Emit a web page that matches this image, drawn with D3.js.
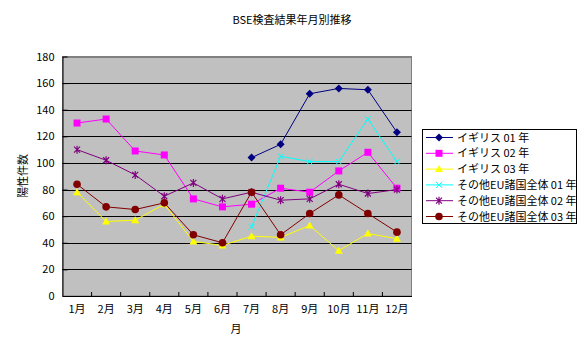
<!DOCTYPE html>
<html><head><meta charset="utf-8">
<script src="https://cdn.jsdelivr.net/npm/d3@7"></script>
<style>
body{margin:0;background:#fff;}
text{font-family:"Noto Sans CJK JP","DejaVu Sans",sans-serif;fill:#000;}
</style></head>
<body><svg id="c" width="587" height="354"></svg>
<script>
const months = ["1月","2月","3月","4月","5月","6月","7月","8月","9月","10月","11月","12月"];
const yTicks = [0,20,40,60,80,100,120,140,160,180];
const seriesNames = ["イギリス 01 年","イギリス 02 年","イギリス 03 年","その他EU諸国全体 01 年","その他EU諸国全体 02 年","その他EU諸国全体 03 年"];
const uk01 = [null,null,null,null,null,null,104,114,152,156,155,123];
const uk02 = [130,133,109,106,73,67,69,81,78,94,108,81];
const uk03 = [78,56,57,69,41,38,45,44,53,34,47,43];
const eu01 = [null,null,null,null,null,null,52,105,101,101,133,101];
const eu02 = [110,102,91,75,85,73,78,72,73,84,77,80];
const eu03 = [84,67,65,70,46,40,78,46,62,76,62,48];
const colors = ["#000080","#FF00FF","#FFFF00","#00FFFF","#800080","#800000"];
const markers = ["diamond","square","triangle","x","star","circle"];
const data = [uk01,uk02,uk03,eu01,eu02,eu03];

const svg = d3.select("#c");
const L=62.5,R=411.5,T=56.5,B=296;
const x = d3.scaleBand().domain(months).range([L,R]).padding(0);
const y = d3.scaleLinear().domain([0,180]).range([B,T]);

svg.append("text").attr("x",292).attr("y",24).attr("text-anchor","middle").attr("font-size",11).text("BSE検査結果年月別推移");

svg.append("rect").attr("x",L).attr("y",T).attr("width",R-L).attr("height",B-T).attr("fill","#C0C0C0").attr("stroke","#808080");

// gridlines
svg.append("g").selectAll("line").data(yTicks.filter(v=>v>0)).join("line")
  .attr("x1",L).attr("x2",R).attr("y1",d=>Math.round(y(d))+0.5).attr("y2",d=>Math.round(y(d))+0.5)
  .attr("stroke",(d)=>d===180?"#808080":"#000").attr("stroke-width",1);

// y axis
const ya = svg.append("g").attr("transform",`translate(${L},0)`)
  .call(d3.axisLeft(y).tickValues(yTicks).tickSize(-5).tickPadding(8).tickSizeOuter(0));
ya.select(".domain").attr("stroke","#000");
ya.selectAll("text").attr("font-size",11).attr("font-family","\"Noto Sans CJK JP\",sans-serif");
ya.selectAll("line").attr("stroke","#000");

// x axis
const xa = svg.append("g").attr("transform",`translate(0,${B})`)
  .call(d3.axisBottom(x).tickSize(0).tickPadding(9).tickSizeOuter(0));
xa.select(".domain").attr("stroke","#000");
xa.selectAll("text").attr("font-size",11).attr("font-family","\"Noto Sans CJK JP\",sans-serif");
svg.append("g").selectAll("line").data(months.slice(1)).join("line")
  .attr("x1",d=>x(d)).attr("x2",d=>x(d)).attr("y1",B).attr("y2",B-4).attr("stroke","#000");

svg.append("text").attr("x",236).attr("y",333).attr("text-anchor","middle").attr("font-size",11).text("月");
svg.append("text").attr("transform","translate(27,176) rotate(-90)").attr("text-anchor","middle").attr("font-size",11).text("陽性件数");

function drawMarker(g,type,cx,cy,col){
  if(type==="diamond"){g.append("path").attr("d",`M${cx},${cy-4}L${cx+4},${cy}L${cx},${cy+4}L${cx-4},${cy}Z`).attr("fill",col);}
  else if(type==="square"){g.append("rect").attr("x",cx-3.5).attr("y",cy-3.5).attr("width",7).attr("height",7).attr("fill",col);}
  else if(type==="triangle"){g.append("path").attr("d",`M${cx},${cy-4}L${cx+4},${cy+3}L${cx-4},${cy+3}Z`).attr("fill",col);}
  else if(type==="x"){g.append("path").attr("d",`M${cx-3},${cy-3}L${cx+3},${cy+3}M${cx+3},${cy-3}L${cx-3},${cy+3}`).attr("stroke",col).attr("stroke-width",1);}
  else if(type==="star"){g.append("path").attr("d",`M${cx-3},${cy-3}L${cx+3},${cy+3}M${cx+3},${cy-3}L${cx-3},${cy+3}M${cx},${cy-4}L${cx},${cy+4}`).attr("stroke",col).attr("stroke-width",1.2);}
  else if(type==="circle"){g.append("circle").attr("cx",cx).attr("cy",cy).attr("r",3.8).attr("fill",col);}
}

const line = d3.line().defined(d=>d.v!==null).x(d=>x(d.m)+x.bandwidth()/2).y(d=>y(d.v));
data.forEach((s,i)=>{
  const pts = s.map((v,j)=>({m:months[j],v}));
  const g = svg.append("g");
  g.append("path").datum(pts).attr("d",line).attr("fill","none").attr("stroke",colors[i]).attr("stroke-width",1);
  pts.filter(p=>p.v!==null).forEach(p=>drawMarker(g,markers[i],x(p.m)+x.bandwidth()/2,y(p.v),colors[i]));
});

// legend
const lg = svg.append("g");
lg.append("rect").attr("x",422.5).attr("y",129.5).attr("width",154).attr("height",94).attr("fill","#fff").attr("stroke","#000");
seriesNames.forEach((n,i)=>{
  const yy = 137.5 + i*15.8;
  lg.append("line").attr("x1",426).attr("x2",453).attr("y1",yy).attr("y2",yy).attr("stroke",colors[i]);
  drawMarker(lg,markers[i],439,yy,colors[i]);
  lg.append("text").attr("x",457).attr("y",yy+4).attr("font-size",11).text(n);
});
</script></body></html>
